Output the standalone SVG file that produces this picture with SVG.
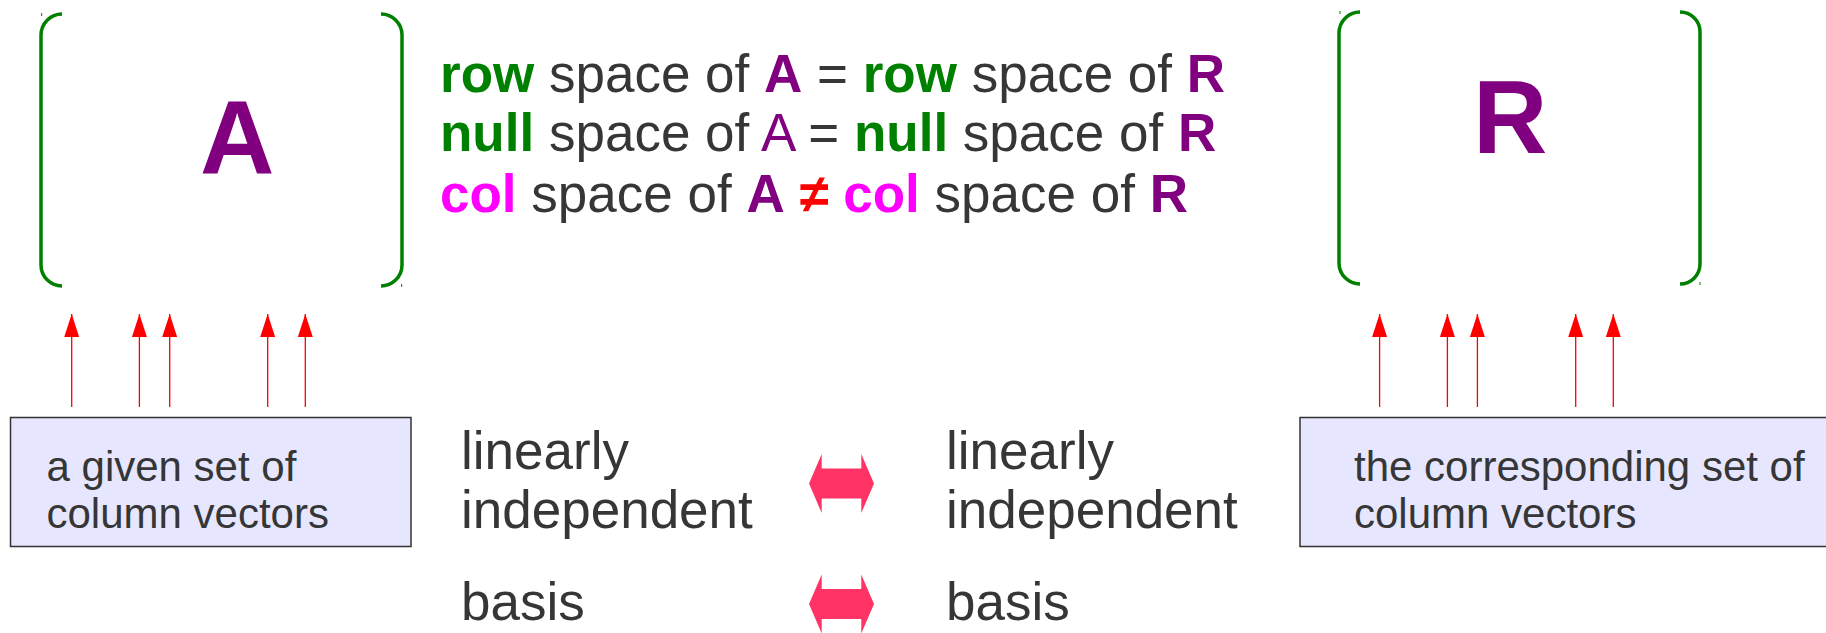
<svg xmlns="http://www.w3.org/2000/svg" width="1826" height="633" viewBox="0 0 1826 633">
<style>
text{font-family:"Liberation Sans",Arial,sans-serif;fill:#363636}
.b{font-weight:bold}
.g{fill:#008000;font-weight:bold}
.p{fill:#800080}
.m{fill:#ff00ff;font-weight:bold}
.rd{fill:#ff0000;font-weight:bold}
.br{fill:none;stroke:#008000;stroke-width:3.5}
.tick{stroke:#008000;stroke-width:1}
.big{font-size:103px;font-weight:bold;fill:#800080}
.eq{font-size:53px}
.mid{font-size:53px}
.lbl{font-size:42px}
.box{fill:#e6e6ff;stroke:#333333;stroke-width:1.5}
.vec{stroke:#ff0000;stroke-width:1.3;fill:none;marker-end:url(#ah)}
.dbl{fill:#ff3366}
</style>
<defs>
<marker id="ah" viewBox="0 0 23 15" refX="23" refY="7.5" markerWidth="23" markerHeight="15" markerUnits="userSpaceOnUse" orient="auto">
<path d="M0,0 L23,7.5 L0,15 Z" fill="#ff0000"/>
</marker>
<path id="dblshape" d="M0,0 L12.7,-29.5 L12.7,-15 L52.3,-15 L52.3,-29.5 L65,0 L52.3,29.5 L52.3,15 L12.7,15 L12.7,29.5 Z"/>
</defs>

<g id="matrixA">
<path class="br" d="M62,14 A21,21 0 0 0 41,35 V265 A21,21 0 0 0 62,286"/>
<path class="br" d="M381,14 A21,21 0 0 1 402,35 V265 A21,21 0 0 1 381,286"/>
<path class="tick" d="M41.7,13 V16 M401.7,284 V287"/>
<text class="big" x="200" y="173">A</text>
</g>

<g id="matrixR">
<path class="br" d="M1360,12 A21,21 0 0 0 1339,33 V263 A21,21 0 0 0 1360,284"/>
<path class="br" d="M1680,12 A20,20 0 0 1 1700,32 V264 A20,20 0 0 1 1680,284"/>
<path class="tick" d="M1340,11 V14 M1700,282 V285"/>
<text class="big" x="1473" y="153">R</text>
</g>

<g id="equations">
<text class="eq" x="440" y="92"><tspan class="g">row</tspan> space of <tspan class="b p">A</tspan> = <tspan class="g">row</tspan> space of <tspan class="b p">R</tspan></text>
<text class="eq" x="440" y="151"><tspan class="g">null</tspan> space of <tspan class="p">A</tspan> = <tspan class="g">null</tspan> space of <tspan class="b p">R</tspan></text>
<text class="eq" x="440" y="212"><tspan class="m">col</tspan> space of <tspan class="b p">A</tspan> <tspan class="rd">≠</tspan> <tspan class="m">col</tspan> space of <tspan class="b p">R</tspan></text>
</g>

<g id="boxA">
<rect class="box" x="10.5" y="417.5" width="400.5" height="129"/>
<text class="lbl" x="46.5" y="481">a given set of</text>
<text class="lbl" x="46.5" y="528">column vectors</text>
</g>

<g id="boxR">
<rect class="box" x="1300" y="417.5" width="540" height="129"/>
<text class="lbl" x="1354" y="481">the corresponding set of</text>
<text class="lbl" x="1354" y="528">column vectors</text>
</g>

<g id="leftTerms">
<text class="mid" x="461" y="469">linearly</text>
<text class="mid" x="461" y="528">independent</text>
<text class="mid" x="461" y="620">basis</text>
</g>

<g id="rightTerms">
<text class="mid" x="946" y="469">linearly</text>
<text class="mid" x="946" y="528">independent</text>
<text class="mid" x="946" y="620">basis</text>
</g>

<g id="connectors">
<path class="vec" d="M71.7,407 V314"/>
<path class="vec" d="M139.4,407 V314"/>
<path class="vec" d="M169.7,407 V314"/>
<path class="vec" d="M267.7,407 V314"/>
<path class="vec" d="M305.3,407 V314"/>
<path class="vec" d="M1379.6,407 V314"/>
<path class="vec" d="M1447.4,407 V314"/>
<path class="vec" d="M1477.4,407 V314"/>
<path class="vec" d="M1575.7,407 V314"/>
<path class="vec" d="M1613.3,407 V314"/>
<use class="dbl" href="#dblshape" x="809" y="483.5"/>
<use class="dbl" href="#dblshape" x="809" y="604"/>
</g>
</svg>
